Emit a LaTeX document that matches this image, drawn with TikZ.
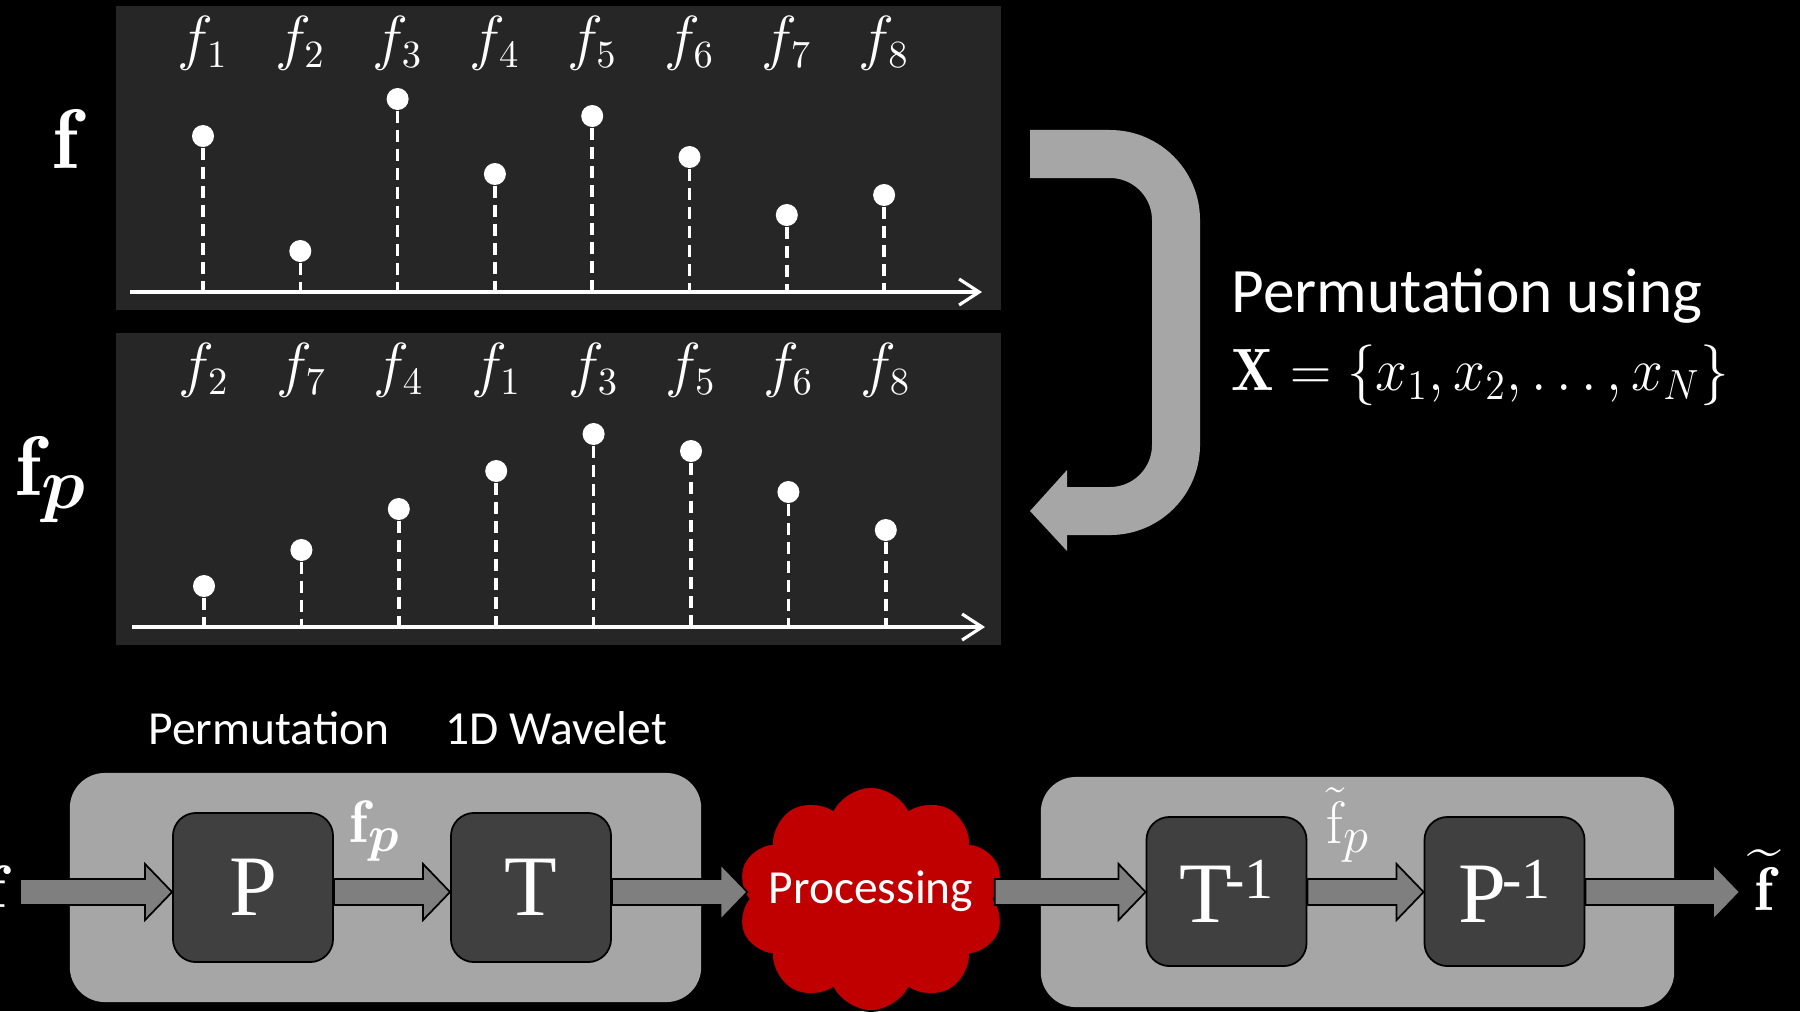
\documentclass[tikz,border=0pt]{standalone}
\usepackage{amsmath}
\usepackage{graphicx}
\usepackage{fontspec}
\newfontfamily\calibfont{Carlito}
\newfontfamily\timesfont{Liberation Serif}
\usetikzlibrary{arrows.meta,shapes.symbols,calc}

\definecolor{panelgray}{HTML}{262626}
\definecolor{boxgray}{HTML}{A6A6A6}
\definecolor{opgray}{HTML}{404040}
\definecolor{flowgray}{HTML}{7F7F7F}
\definecolor{cloudred}{HTML}{C00000}

% block arrow between two points on the same horizontal level
\newcommand\flowarrow[2]{%
  \filldraw[flowarrow] let \p1=(#1), \p2=(#2) in
    (\x1,{\y1+0.13cm}) -- ({\x2-0.27cm},{\y1+0.13cm}) -- ({\x2-0.27cm},{\y1+0.28cm})
    -- (\x2,\y1) -- ({\x2-0.27cm},{\y1-0.28cm}) -- ({\x2-0.27cm},{\y1-0.13cm})
    -- (\x1,{\y1-0.13cm}) -- cycle;}

\begin{document}
\begin{tikzpicture}[x=0.01cm, y=-0.01cm,
  every node/.style={inner sep=0pt, text=white},
  panel/.style={fill=panelgray},
  dot/.style={circle, fill=white, minimum size=0.22cm},
  stem/.style={white, line width=1pt, dash pattern=on 0.12cm off 0.07cm},
  axis/.style={white, line width=0.9pt, -{Straight Barb[length=0.2cm,width=0.26cm,line width=0.9pt]}},
  flabel/.style={anchor=base, font=\fontsize{16}{19}\selectfont},
  bigf/.style={anchor=base west, font=\fontsize{24}{28}\selectfont},
  stage/.style={fill=boxgray, rounded corners=0.35cm},
  opbox/.style={draw=black, line width=0.5pt, fill=opgray, rounded corners=0.23cm,
    minimum width=1.6cm, minimum height=1.49cm, font=\timesfont\fontsize{24.5}{28}\selectfont},
  flowarrow/.style={fill=flowgray, draw=black, line width=0.5pt},
  caption/.style={anchor=base west, font=\calibfont\fontsize{13.5}{16}\selectfont},
  flowlabel/.style={anchor=base west, font=\fontsize{17}{20}\selectfont},
  permband/.style={draw=boxgray, line width=0.48cm, rounded corners=0.66cm}]

\useasboundingbox (0,0) rectangle (1800,1011);
\fill[black] (0,0) rectangle (1800,1011);

% ---------- signal f ----------
\node[panel, minimum width=8.85cm, minimum height=3.04cm] (fpanel) at (558.5,158) {};
\coordinate (fax0) at (130,292);
\coordinate (fax1) at (982,292);
\draw[axis] (fax0) -- (fax1);
\foreach \i/\h [count=\k] in {1/156,2/41,3/193,4/118,5/176,6/135,7/77,8/97} {
  \pgfmathsetmacro\xx{203+97.3*(\k-1)}
  \coordinate (fb\i) at (\xx,292);
  \node[dot] (fd\i) at (\xx,292-\h) {};
  \draw[stem] (fd\i) -- (fb\i);
  \node[flabel] (fl\i) at (\xx,58) {$f_{\i}$};
}
\node[bigf] (flab) at (52,168) {$\mathbf{f}$};

% ---------- permuted signal f_p ----------
\node[panel, minimum width=8.85cm, minimum height=3.12cm] (ppanel) at (558.5,489) {};
\coordinate (pax0) at (132,627);
\coordinate (pax1) at (985,627);
\draw[axis] (pax0) -- (pax1);
\foreach \i/\h [count=\k] in {2/41,7/77,4/118,1/156,3/193,5/176,6/135,8/97} {
  \pgfmathsetmacro\xx{204+97.4*(\k-1)}
  \coordinate (pb\i) at (\xx,627);
  \node[dot] (pd\i) at (\xx,627-\h) {};
  \draw[stem] (pd\i) -- (pb\i);
  \node[flabel] (pl\i) at (\xx,385) {$f_{\i}$};
}
\node[bigf] (fplab) at (15,495) {$\mathbf{f}_{\mbox{\fontsize{20}{20}\selectfont$\boldsymbol{p}$}}$};

% ---------- permutation arrow ----------
\coordinate (bendstart) at (1030,154);
\coordinate (bendend) at (1060,511);
\draw[permband] (bendstart) -- (1176,154) -- (1176,511) -- (bendend);
\fill[boxgray] (1067,470) -- (1030,511) -- (1067,551) -- cycle;
\node[anchor=base west, font=\calibfont\fontsize{18}{22}\selectfont] (permtxt) at (1231,312) {Permutation using};
\node[anchor=base west, font=\fontsize{17}{20}\selectfont] (setx) at (1231,390)
  {\scalebox{0.94}[1]{$\mathbf{X}=\{x_1,x_2,\ldots,x_N\}$}};

% ---------- processing chain ----------
\node[caption] (cap1) at (148,744) {Permutation};
\node[caption] (cap2) at (445,744) {1D Wavelet};

\node[stage, minimum width=6.31cm, minimum height=2.29cm] (enc) at (385.5,887.5) {};
\node[stage, minimum width=6.33cm, minimum height=2.30cm] (dec) at (1357.5,892) {};

\node[opbox] (P) at (253,887.5) {P};
\node[opbox] (T) at (531,887.5) {T};
\node[opbox] (Ti) at (1226.5,891.5) {T\kern-2pt\raisebox{7pt}{\fontsize{16.5}{18}\selectfont -1}};
\node[opbox] (Pi) at (1504.5,891.5) {P\kern-1pt\raisebox{7pt}{\fontsize{16.5}{18}\selectfont -1}};

\node[cloud, cloud puffs=10, cloud puff arc=125, aspect=1.17, draw=black, line width=0.5pt,
  fill=cloudred, minimum width=2.68cm, minimum height=2.24cm,
  label={[font=\calibfont\fontsize{13.5}{16}\selectfont, yshift=0.08cm]center:Processing}]
  (proc) at (871,899) {};

\coordinate (flow) at (0,892);
\coordinate (fin) at (20,892);
\coordinate (fout) at (1740,892);

\flowarrow{fin}{P.west |- flow}
\flowarrow{P.east |- flow}{T.west |- flow}
\flowarrow{T.east |- flow}{proc.west |- flow}
\flowarrow{proc.east |- flow}{Ti.west |- flow}
\flowarrow{Ti.east |- flow}{Pi.west |- flow}
\flowarrow{Pi.east |- flow}{fout}

\node[flowlabel] (fsrc) at (-13,907) {$\mathbf{f}$};
\node[flowlabel] (fplabel) at (349,842) {$\mathbf{f}_{\mbox{\fontsize{15}{15}\selectfont$\boldsymbol{p}$}}$};
\node[flowlabel] (ftplabel) at (1326,843) {$\tilde{\mathrm{f}}_{\mbox{\fontsize{15}{15}\selectfont$p$}}$};
\node[flowlabel, font=\fontsize{17.5}{20}\selectfont] (fout lab) at (1754,910) {$\widetilde{\mathbf{f}}$};

\end{tikzpicture}
\end{document}
